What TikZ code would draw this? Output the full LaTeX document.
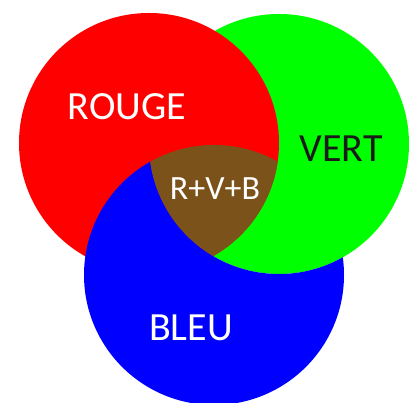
\documentclass[tikz,border=0pt]{standalone}
\usepackage{fontspec}
\setmainfont{Carlito}
\definecolor{rouge}{RGB}{255,0,0}
\definecolor{vert}{RGB}{0,255,0}
\definecolor{bleu}{RGB}{0,0,255}
\definecolor{brun}{RGB}{123,83,26}
\definecolor{noir}{RGB}{26,26,26}
\tikzset{
  label/.style={font=\fontsize{40}{40}\selectfont,inner sep=0pt},
}
\begin{document}
\begin{tikzpicture}[x=1pt,y=1pt]
      \useasboundingbox (0,0) rectangle (417,403);
      \coordinate (cr) at (149,260);
      \coordinate (cv) at (279,259);
      \coordinate (cb) at (214,128);
      \def\rayon{130}
      % les trois disques
      \fill[vert] (cv) circle (\rayon);
      \fill[rouge] (cr) circle (\rayon);
      \begin{scope}[even odd rule]
        \clip (cv) circle (\rayon) (-10,-10) rectangle (427,413);
        \fill[bleu] (cb) circle (\rayon);
      \end{scope}
      % R+V+B
      \begin{scope}
        \clip (cr) circle (\rayon);
        \clip (cv) circle (\rayon);
        \fill[brun] (cb) circle (\rayon);
      \end{scope}
      \node[label,text=white] (r) at (127,296) {ROUGE};
      \node[label,text=noir] (v) at (341,254) {VERT};
      \node[label,text=white,font=\fontsize{34}{34}\selectfont] (rvb) at (215,214) {R+V+B};
      \node[label,text=white] (b) at (191,75) {BLEU};
    \end{tikzpicture}
\end{document}
